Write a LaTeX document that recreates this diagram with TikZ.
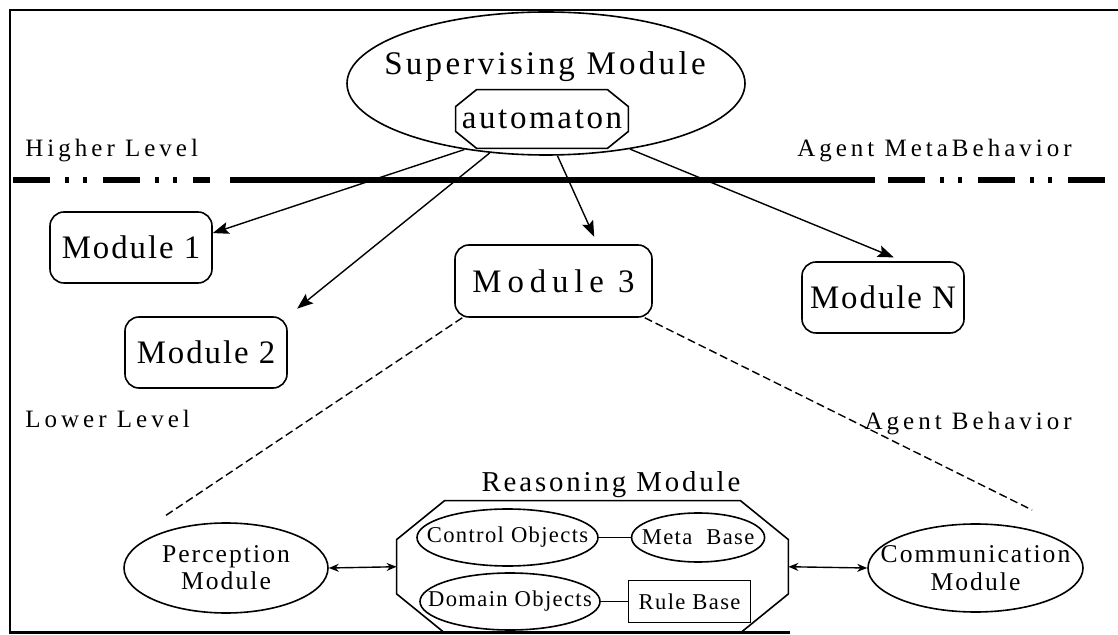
\documentclass[tikz,border=0pt]{standalone}
\usepackage{fontspec}
\setmainfont{Liberation Serif}[LetterSpace=6]
\usepackage{tikz}
\usetikzlibrary{shapes.geometric,positioning,arrows.meta}

% octagon outline round a node: node, horizontal cut, vertical cut
\newcommand{\octpath}[3]{([xshift=#2]#1.north west) -- ([xshift=-#2]#1.north east)
  -- ([yshift=-#3]#1.north east) -- ([yshift=#3]#1.south east)
  -- ([xshift=-#2]#1.south east) -- ([xshift=#2]#1.south west)
  -- ([yshift=#3]#1.south west) -- ([yshift=-#3]#1.north west) -- cycle}

\tikzset{
  modbox/.style={draw, rounded corners=7pt, line width=0.8pt, minimum width=81pt,
    minimum height=35.5pt, inner sep=0pt, font=\fontsize{16.4}{18}\selectfont},
  oval/.style={draw, ellipse, line width=0.8pt, inner sep=0pt},
  octbox/.style={rectangle, inner sep=0pt},
  txt/.style={inner sep=0pt, align=center, font=\fontsize{11.3}{12}\selectfont},
  lvl/.style={inner sep=0pt, font=\fontsize{12.5}{14}\selectfont\addfontfeature{LetterSpace=16}},
  arr/.style={-{Stealth[length=8pt,width=6pt,inset=1.5pt]}, line width=0.7pt},
  dbl/.style={{Stealth[length=5pt,width=4pt]}-{Stealth[length=5pt,width=4pt]}, line width=0.7pt},
  zoomline/.style={line width=0.7pt, dash pattern=on 4pt off 2pt}
}

\begin{document}
\begin{tikzpicture}[x=0.5pt,y=-0.5pt]
	\useasboundingbox (0,0) rectangle (1118,635);
	
	% draw frame
	\draw[line width=1.2pt] (1118,10) -- (10,10) -- (10,632.5) -- (790,632.5);
	
	% draw level separation line
	\draw[line width=3pt, dash pattern=on 18.5pt off 7.5pt on 2pt off 7pt on 2pt off 8pt] (13,180) -- (210,180);
	\draw[line width=2.6pt] (230,180) -- (875,180);
	\draw[line width=3pt, dash pattern=on 18.5pt off 7.5pt on 2pt off 7pt on 2pt off 8pt] (888,180) -- (1118,180);
	
	% draw supervising module
	\node[oval, minimum width=199pt, minimum height=71.5pt] (sup) at (546,83.5) {};
	\node[txt, font=\fontsize{16.5}{18}\selectfont\addfontfeature{LetterSpace=10}] (suptxt) at (545,67) {Supervising Module};
	\node[octbox, minimum width=86pt, minimum height=29pt,
	font=\fontsize{16.5}{18}\selectfont\addfontfeature{LetterSpace=8}] (auto) at (542,119) {automaton};
	\draw[line width=0.8pt] \octpath{auto}{10.5pt}{8.5pt};
	
	% draw level labels
	\node[lvl, anchor=base west] (hl) at (25,157) {Higher Level};
	\node[lvl, anchor=base east] (amb) at (1072,157) {Agent MetaBehavior};
	\node[lvl, anchor=base west] (ll) at (25,428) {Lower Level};
	\node[lvl, anchor=base east] (ab) at (1072,430) {Agent Behavior};
	
	% draw modules
	\node[modbox] (m1) at (131,247.5) {Module 1};
	\node[modbox] (m2) at (206,352.5) {Module 2};
	\node[modbox, minimum width=98.5pt, minimum height=36pt,
	font=\fontsize{16.4}{18}\selectfont\addfontfeature{LetterSpace=18}] (m3) at (553.5,281) {Module 3};
	\node[modbox] (mN) at (883,297.5) {Module N};
	
	% draw arrows
	\draw[arr] (sup.219) -- (m1.10);
	\draw[arr, shorten >=6pt] (sup.231) -- (m2.north east);
	\draw[arr, shorten >=4pt] (sup.279) -- ([xshift=22pt]m3.north);
	\draw[arr, shorten >=5pt] (sup.322) -- ([xshift=10pt]mN.north);
	
	% draw zoom lines
	\coordinate (zl) at (165,516);
	\coordinate (zr) at (1032,510);
	\draw[zoomline] ([xshift=4pt]m3.south west) -- (zl);
	\draw[zoomline] ([xshift=-4pt]m3.south east) -- (zr);
	
	% draw agent behavior
	\node[oval, minimum width=102pt, minimum height=45pt,
	label={[txt, font=\fontsize{12.8}{13.5}\selectfont\addfontfeature{LetterSpace=8}]center:Perception\\Module}] (perc) at (226,568) {};
	\node[octbox, minimum width=195.5pt, minimum height=65.75pt] (reas) at (592.5,566.75) {};
	\draw[line width=0.8pt] \octpath{reas}{24pt}{19.5pt};
	\node[txt, font=\fontsize{14.4}{16}\selectfont\addfontfeature{LetterSpace=10}] (reastxt) at (611,485) {Reasoning Module};
	\node[oval, minimum width=107.5pt, minimum height=44pt,
	label={[txt, font=\fontsize{12.8}{14}\selectfont\addfontfeature{LetterSpace=8}]center:Communication\\Module}] (comm) at (975.5,568) {};
	
	\node[oval, minimum width=90.5pt, minimum height=28.5pt, label={[txt]center:Control Objects}] (co) at (507.5,537.5) {};
	\node[oval, minimum width=66.5pt, minimum height=24.5pt, right=16pt of co, label={[txt]center:Meta~~Base}] (mb) {};
	\node[oval, minimum width=90pt, minimum height=28.5pt, label={[txt]center:Domain Objects}] (do) at (510,601.5) {};
	\node[draw, line width=0.8pt, minimum width=61pt, minimum height=21pt, right=13.5pt of do, txt] (rb) {Rule Base};
	
	\draw[line width=0.8pt] (co) -- (mb);
	\draw[line width=0.8pt] (do) -- (rb);
	\draw[dbl] (perc.east) -- (reas.west);
	\draw[dbl] (reas.east) -- (comm.west);
\end{tikzpicture}
\end{document}
